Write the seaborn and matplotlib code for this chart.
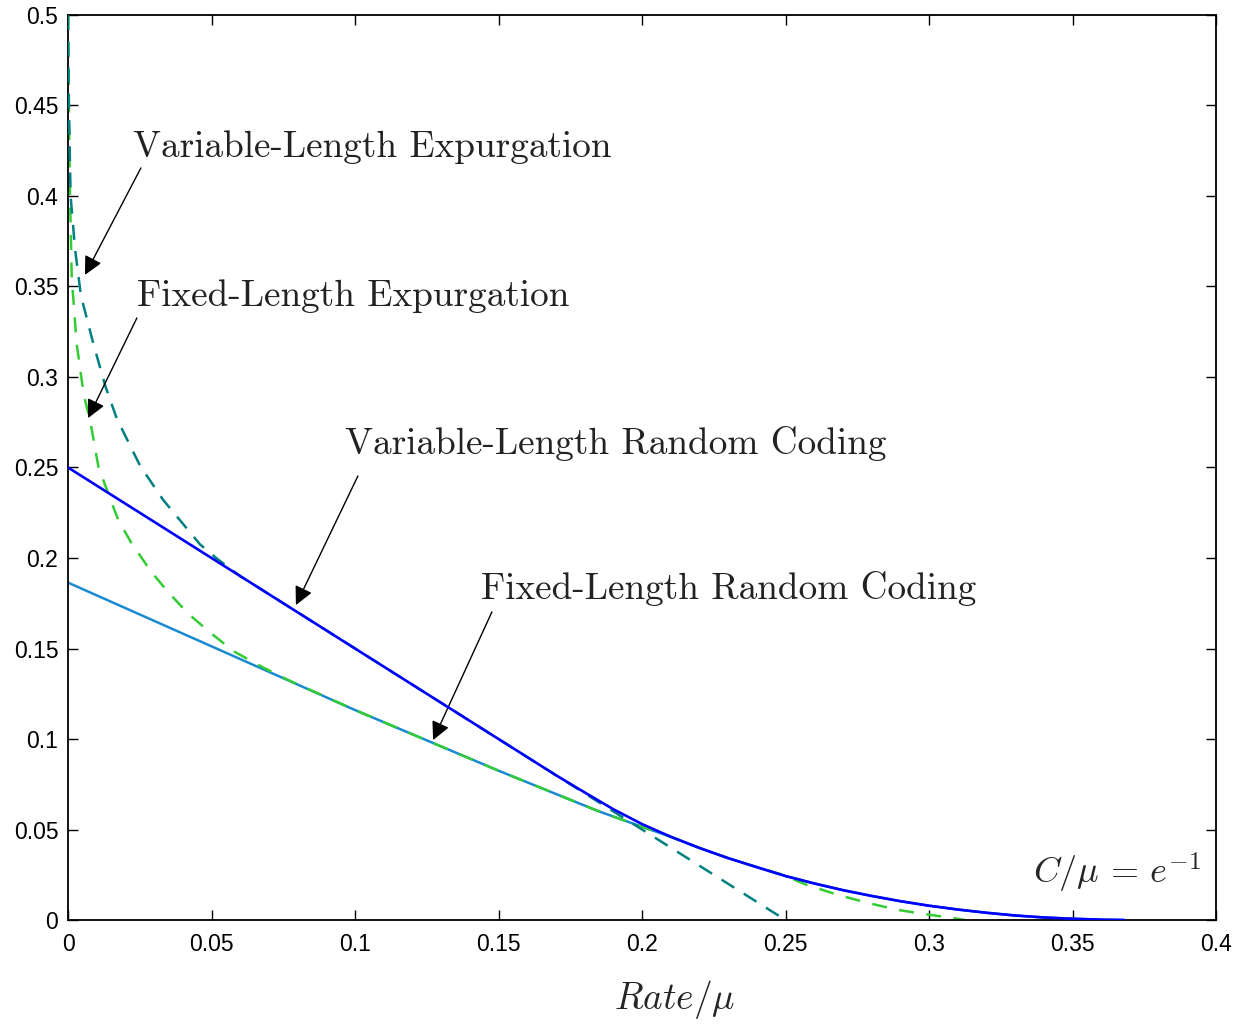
import matplotlib
matplotlib.use("Agg")
import matplotlib.pyplot as plt
import seaborn as sns

# ---- data ----
# Variable-Length Random Coding (solid blue)
vl_rc_rate = [0.0, 0.05, 0.10, 0.15, 0.17, 0.18, 0.19, 0.20, 0.21, 0.22, 0.23, 0.24,
              0.25, 0.26, 0.27, 0.28, 0.29, 0.30, 0.31, 0.32, 0.33, 0.34, 0.35, 0.36, 0.368]
vl_rc_exp = [0.250, 0.200, 0.150, 0.100, 0.080, 0.0705, 0.0612, 0.0530, 0.0460, 0.0398,
             0.0342, 0.0292, 0.0243, 0.0202, 0.0165, 0.0133, 0.0104, 0.0079, 0.0058,
             0.0040, 0.0025, 0.0014, 0.0007, 0.0002, 0.0]

# Fixed-Length Random Coding (solid light blue)
fl_rc_rate = [0.0, 0.05, 0.10, 0.15, 0.185, 0.20, 0.21, 0.22, 0.23, 0.24, 0.25, 0.26,
              0.27, 0.28, 0.29, 0.30, 0.31, 0.32, 0.33, 0.34, 0.35, 0.36, 0.368]
fl_rc_exp = [0.1864, 0.1512, 0.1160, 0.0825, 0.0600, 0.0515, 0.0460, 0.0398, 0.0342,
             0.0292, 0.0243, 0.0202, 0.0165, 0.0133, 0.0104, 0.0079, 0.0058, 0.0040,
             0.0025, 0.0014, 0.0007, 0.0002, 0.0]

# Variable-Length Expurgation (dashed teal)
vl_ex_rate = [0.0, 0.0003, 0.0009, 0.0025, 0.0045, 0.0088, 0.013, 0.017, 0.0251,
              0.0332, 0.046, 0.052, 0.060, 0.10, 0.15, 0.19, 0.25]
vl_ex_exp = [0.5, 0.45, 0.40, 0.37, 0.345, 0.3186, 0.295, 0.277, 0.251, 0.232,
             0.2075, 0.1995, 0.190, 0.150, 0.100, 0.060, 0.0]

# Fixed-Length Expurgation (dashed green)
fl_ex_rate = [0.0, 0.0003, 0.0007, 0.0013, 0.003, 0.0055, 0.0077, 0.0106, 0.014,
              0.0175, 0.0222, 0.029, 0.0348, 0.0418, 0.0499, 0.058, 0.0674, 0.0767,
              0.10, 0.15, 0.185, 0.20, 0.21, 0.22, 0.23, 0.24, 0.248, 0.2573,
              0.2678, 0.2783, 0.2887, 0.2992, 0.3096, 0.3125]
fl_ex_exp = [0.5, 0.45, 0.40, 0.355, 0.3186, 0.29, 0.276, 0.2504, 0.2357, 0.221,
             0.208, 0.1924, 0.1813, 0.1694, 0.1583, 0.1482, 0.140, 0.1326, 0.116,
             0.0825, 0.060, 0.0515, 0.046, 0.0398, 0.0342, 0.0292, 0.0255, 0.0195,
             0.0141, 0.0096, 0.0057, 0.0031, 0.0008, 0.0]

tick_x = [0, 0.05, 0.1, 0.15, 0.2, 0.25, 0.3, 0.35, 0.4]
tick_y = [0, 0.05, 0.1, 0.15, 0.2, 0.25, 0.3, 0.35, 0.4, 0.45, 0.5]

sns.set_style("ticks")
plt.rcParams["font.family"] = ["Liberation Sans", "DejaVu Sans"]
plt.rcParams["mathtext.fontset"] = "cm"

fig = plt.figure(figsize=(12.41, 10.26), dpi=100)
ax = fig.add_axes([0.0548, 0.1033, 0.9251, 0.8821])

sns.lineplot(x=fl_rc_rate, y=fl_rc_exp, color="#1a8ad0", lw=1.8, sort=False,
             estimator=None, ax=ax, zorder=1)
sns.lineplot(x=fl_ex_rate, y=fl_ex_exp, color="#33cc33", lw=1.8, sort=False,
             estimator=None, ax=ax, zorder=2, linestyle=(0, (6, 5)))
sns.lineplot(x=vl_ex_rate, y=vl_ex_exp, color="#008080", lw=1.8, sort=False,
             estimator=None, ax=ax, zorder=3, linestyle=(0, (6, 4.5)))
sns.lineplot(x=vl_rc_rate, y=vl_rc_exp, color="#0000ff", lw=1.9, sort=False,
             estimator=None, ax=ax, zorder=4)

ax.set_xlim(0, 0.4)
ax.set_ylim(0, 0.5)
ax.set_xticks(tick_x)
ax.set_xticklabels([f"{v:g}" for v in tick_x])
ax.set_yticks(tick_y)
ax.set_yticklabels([f"{v:g}" for v in tick_y])
ax.tick_params(direction="in", length=7, width=1, top=True, right=True,
               labelsize=16.5, colors="k")
ax.tick_params(axis="x", pad=9)
ax.tick_params(axis="y", pad=7)
for sp in ax.spines.values():
    sp.set_linewidth(1.3)
    sp.set_color("k")

ax.set_xlabel(r"$Rate/\mu$", fontsize=27)
ax.xaxis.set_label_coords(0.5287, -0.064)
ax.set_ylabel(None)

# labels and arrows
txt = dict(fontfamily="cmr10", fontsize=26.8, va="center", ha="left", color="#222222")
arr = dict(arrowstyle="-|>", color="k", lw=1.0, mutation_scale=28,
           shrinkA=0, shrinkB=0)

ax.text(0.0226, 0.4271, "Variable-Length Expurgation", **txt)
ax.annotate("", xy=(0.0059, 0.3564), xytext=(0.0254, 0.4155), arrowprops=arr)

ax.text(0.024, 0.3448, "Fixed-Length Expurgation", **txt)
ax.annotate("", xy=(0.0070, 0.2773), xytext=(0.024, 0.3326), arrowprops=arr)

ax.text(0.0965, 0.263, "Variable-Length Random Coding", **txt)
ax.annotate("", xy=(0.0794, 0.174), xytext=(0.101, 0.2453), arrowprops=arr)

ax.text(0.1439, 0.1834, "Fixed-Length Random Coding", **txt)
ax.annotate("", xy=(0.1272, 0.0994), xytext=(0.1477, 0.1702), arrowprops=arr)

ax.text(0.3362, 0.026, r"$C/\mu\,=\,e^{-1}$", fontsize=26, va="center", ha="left")

fig.savefig("out.png", dpi=100)
